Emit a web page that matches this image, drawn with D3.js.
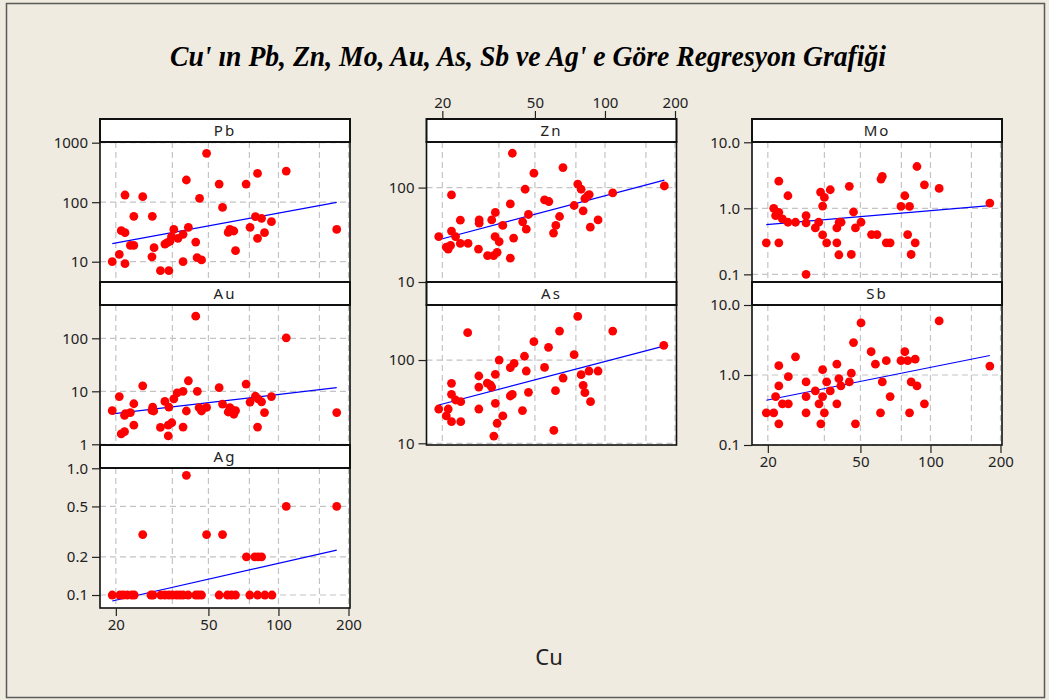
<!DOCTYPE html>
<html>
<head>
<meta charset="utf-8">
<script src="https://cdn.jsdelivr.net/npm/d3@7"></script>
<style>
  html, body { margin: 0; padding: 0; background: #EFEBE1; }
  svg { display: block; }
</style>
</head>
<body>
<svg id="chart" width="1049" height="700"></svg>
<script>
// ---- Cu axis (shared by every panel) ----
const cuDomain = [17.1, 203];
const cuTicks = [20, 50, 100, 200];
const cuGrid = [20, 35, 50, 75, 100, 150, 200];

// ---- Pb vs Cu ----
const pbCu = [19.3,20.7,21.9,21.9,21.1,21.9,23.1,23.9,23.9,26.1,28.7,29.2,28.6,31.1,33.8,32.5,33.3,34.2,34.7,35.5,37.0,38.9,38.9,40.2,41.0,44.1,44.7,45.8,46.7,49.1,55.6,57.5,60.8,61.8,62.8,64.3,65.4,72.6,75.5,79.6,81.3,81.3,84.6,87.1,93.3,108,178];
const pbVal = [10,13.3,9.25,132,33.2,30.7,18.8,18.8,57.8,124,57.8,17.2,12.1,7.06,7.06,19.8,20.9,22.2,26.3,34.9,24.7,28.8,10,236,37.8,21.4,11.7,116,10.7,662,202,81.8,31.1,34.9,33.2,32.8,15.3,202,37.8,57.0,305,24.7,53.5,30.7,47.0,334,34.9];
const pbFit = [20.1, 99.3];
const pbTicks = [10, 100, 1000];
const pbTickLabels = ["10", "100", "1000"];

// ---- Au vs Cu ----
const auCu = [19.3,20.7,21.8,22.0,21.1,21.8,23.1,23.9,23.9,26.1,28.6,28.8,29.1,31.1,32.5,33.8,33.6,34.8,33.6,35.5,36.7,38.9,38.9,40.2,41.0,44.1,44.8,45.6,46.7,49.1,55.6,57.5,60.8,61.8,62.8,64.3,65.4,72.6,75.5,79.6,81.3,81.8,84.6,87.1,93.3,108,178];
const auVal = [4.31,7.96,3.53,3.79,1.57,1.73,3.96,5.82,2.30,12.7,4.37,5.05,4.25,2.08,6.43,5.05,2.30,2.55,1.44,7.21,9.31,10,2.11,4.25,15.8,262,10,4.90,4.25,4.97,11.7,5.73,4.07,4.90,4.50,3.69,4.31,13.7,6.25,8.07,2.11,7.21,6.34,3.96,7.96,102,3.96];
const auFit = [3.74, 11.7];
const auTicks = [1, 10, 100];
const auTickLabels = ["1", "10", "100"];

// ---- Ag vs Cu ----
const agCu = [19.3,20.8,21.5,22.4,23.4,24.0,28.3,28.9,31.2,32.5,33.8,35.0,36.5,37.7,38.9,40.9,44.1,45.3,46.7,55.6,60.3,62.8,65.4,75.3,81.3,87.4,93.8,26.1,40.2,49.1,57.5,72.8,79.1,81.8,84.6,108,178];
const agVal = [0.1,0.1,0.1,0.1,0.1,0.1,0.1,0.1,0.1,0.1,0.1,0.1,0.1,0.1,0.1,0.1,0.1,0.1,0.1,0.1,0.1,0.1,0.1,0.1,0.1,0.1,0.1,0.3,0.88,0.3,0.3,0.2,0.2,0.2,0.2,0.5,0.5];
const agFit = [0.0897, 0.226];
const agTicks = [0.1, 0.2, 0.5, 1.0];
const agTickLabels = ["0.1", "0.2", "0.5", "1.0"];

// ---- Zn vs Cu ----
const znCu = [19.3,20.8,21.2,21.7,21.9,21.9,22.8,23.9,23.9,25.8,28.6,28.8,28.8,31.3,33.2,32.6,33.8,33.7,34.4,35.1,36.4,39.2,39.2,40.0,40.5,44.3,45.4,45.9,46.9,49.5,55.0,57.4,60.1,61.5,63.8,66.0,73.7,76.4,79.0,80.6,82.0,84.2,85.6,86.5,93.4,108,180];
const znVal = [30.3,23.4,22.3,24.4,83.7,34.6,30.3,45.2,25.6,25.6,22.3,45.5,42.0,19.0,19.0,45.5,54.5,30.3,20.6,26.7,39.7,17.9,67.2,231,29.2,43.4,96.0,36.3,51.9,142,74.1,71.2,33.0,39.7,49.4,163,64.6,109,96.0,56.7,76.6,81.6,84.4,38.1,45.5,87.8,104];
const znFit = [28.0, 120];
const znTicks = [10, 100];
const znTickLabels = ["10", "100"];

// ---- As vs Cu ----
const asCu = [19.3,20.8,21.2,21.9,21.9,21.9,22.8,24.0,24.0,25.7,28.7,28.7,28.7,31.2,32.2,32.6,33.8,33.8,33.3,34.4,35.1,36.4,39.2,39.2,40.0,40.7,44.2,45.1,45.9,46.9,49.5,55.0,57.2,60.3,61.3,66.1,63.8,73.7,76.4,79.0,80.6,82.0,85.4,86.7,93.4,108,179];
const asVal = [25.8,21.3,25.8,52.5,38.7,18.2,33.1,31.6,18.2,213,64.3,47.4,25.8,52.9,50.1,47.4,67.3,30.2,12.2,17.4,100,21.3,80.9,37.0,38.7,91.2,24.7,111,73.8,40.9,166,81.6,142,14.3,42.9,60.8,223,116,334,66.7,49.7,40.6,73.8,31.6,73.8,223,150];
const asFit = [28.8, 147];
const asTicks = [10, 100];
const asTickLabels = ["10", "100"];

// ---- Mo vs Cu ----
const moCu = [19.7,21.2,21.6,22.3,22.3,22.3,23.1,24.4,24.4,26.3,29.2,29.2,29.2,32.0,33.1,33.7,34.4,34.4,35.0,35.8,37.1,39.6,39.6,40.5,41.3,40.4,44.8,45.7,46.7,47.6,50.3,55.8,58.9,61.3,62.1,64.6,67.1,74.7,77.6,79.8,81.3,82.6,86.0,87.5,94.2,109,180];
const moVal = [0.30,1.0,0.775,0.87,2.58,0.30,0.69,1.55,0.615,0.615,0.775,0.60,0.10,0.505,0.615,1.76,0.396,1.08,1.46,0.30,1.91,0.505,0.30,0.615,0.615,0.198,2.15,0.20,0.88,0.505,0.615,0.40,0.40,2.77,3.04,0.30,0.30,1.07,1.55,0.40,1.07,0.20,0.30,4.30,2.27,2.0,1.20];
const moFit = [0.567, 1.10];
const moTicks = [0.1, 1, 10];
const moTickLabels = ["0.1", "1.0", "10.0"];

// ---- Sb vs Cu ----
const sbCu = [19.7,21.2,21.6,22.3,22.3,22.3,23.1,24.5,24.5,26.3,29.2,29.2,29.2,32.0,33.2,33.8,34.4,34.4,35.0,35.8,37.1,39.6,39.6,40.4,41.2,44.8,45.7,46.7,47.6,50.3,55.6,58.0,61.0,62.1,64.6,67.1,74.7,77.6,79.8,81.3,82.6,86.0,87.5,94.2,109,180];
const sbVal = [0.288,0.288,0.492,1.36,0.698,0.201,0.387,0.387,0.947,1.82,0.795,0.492,0.288,0.592,0.387,0.201,1.19,0.492,0.288,0.795,0.592,1.43,0.387,0.887,0.698,0.795,1.06,2.91,0.201,5.55,2.15,1.43,0.288,0.795,1.60,0.492,1.60,2.15,1.60,0.288,0.795,1.69,0.698,0.387,5.92,1.34];
const sbFit = [0.436, 1.90];
const sbTicks = [0.1, 1, 10];
const sbTickLabels = ["0.1", "1.0", "10.0"];

// ---- panel table built from the arrays above ----
const panels = [
  { name: "Pb", col: 0, row: 0, cu: pbCu, val: pbVal, fit: pbFit, domain: [4.56, 1027], ticks: pbTicks, labels: pbTickLabels },
  { name: "Au", col: 0, row: 1, cu: auCu, val: auVal, fit: auFit, domain: [0.97, 425], ticks: auTicks, labels: auTickLabels },
  { name: "Ag", col: 0, row: 2, cu: agCu, val: agVal, fit: agFit, domain: [0.079, 1.005], ticks: agTicks, labels: agTickLabels },
  { name: "Zn", col: 1, row: 0, cu: znCu, val: znVal, fit: znFit, domain: [10, 304], ticks: znTicks, labels: znTickLabels },
  { name: "As", col: 1, row: 1, cu: asCu, val: asVal, fit: asFit, domain: [9.54, 458], ticks: asTicks, labels: asTickLabels },
  { name: "Mo", col: 2, row: 0, cu: moCu, val: moVal, fit: moFit, domain: [0.0766, 10.1], ticks: moTicks, labels: moTickLabels },
  { name: "Sb", col: 2, row: 1, cu: sbCu, val: sbVal, fit: sbFit, domain: [0.1, 10], ticks: sbTicks, labels: sbTickLabels }
];

// Cu axes: one per column
const cuAxes = [
  { col: 0, row: 2, side: "bottom" },
  { col: 1, row: 0, side: "top" },
  { col: 2, row: 1, side: "bottom" }
];

// ---- layout ----
const W = 1049, H = 700;
const colX = [100, 426.5, 752];
const panelW = 250, stripH = 23, plotH = 140, rowStep = 163, top0 = 119;
const tickFont = "'Noto Sans', 'DejaVu Sans', sans-serif";

const svg = d3.select("#chart");
svg.append("rect").attr("width", W).attr("height", H).attr("fill", "#EFEBE1");
svg.append("rect")
  .attr("x", 6.5).attr("y", 3.5).attr("width", 1038).attr("height", 694)
  .attr("fill", "none").attr("stroke", "#5a5a5a").attr("stroke-width", 1.5);

const x = d3.scaleLog().domain(cuDomain).range([0, panelW]);

function styleAxis(sel) {
  sel.select(".domain").remove();
  sel.selectAll(".tick line").attr("stroke", "#222").attr("stroke-width", 1.2);
  sel.selectAll(".tick text")
    .attr("fill", "#222")
    .style("font-family", tickFont)
    .style("font-size", "15px");
}

panels.forEach(p => {
  const sTop = top0 + p.row * rowStep;
  const pTop = sTop + stripH;
  const g = svg.append("g").attr("transform", `translate(${colX[p.col]},0)`);
  const y = d3.scaleLog().domain(p.domain).range([pTop + plotH, pTop]);

  // plotting area
  g.append("rect")
    .attr("x", 0).attr("y", pTop).attr("width", panelW).attr("height", plotH)
    .attr("fill", "#ffffff");

  // dashed reference grid
  g.append("g").selectAll("line").data(cuGrid).join("line")
    .attr("x1", d => x(d)).attr("x2", d => x(d))
    .attr("y1", pTop).attr("y2", pTop + plotH)
    .attr("stroke", "#c4c4c4").attr("stroke-width", 1.2)
    .attr("stroke-dasharray", "6,4");
  g.append("g").selectAll("line").data(p.ticks).join("line")
    .attr("x1", 0).attr("x2", panelW)
    .attr("y1", d => y(d)).attr("y2", d => y(d))
    .attr("stroke", "#c4c4c4").attr("stroke-width", 1.2)
    .attr("stroke-dasharray", "6,4");

  // fitted regression line (straight in log-log space)
  const cuExt = d3.extent(p.cu);
  g.append("line")
    .attr("x1", x(cuExt[0])).attr("y1", y(p.fit[0]))
    .attr("x2", x(cuExt[1])).attr("y2", y(p.fit[1]))
    .attr("stroke", "#0000ff").attr("stroke-width", 1.2);

  // observations
  g.append("g").selectAll("circle").data(p.cu).join("circle")
    .attr("cx", d => x(d))
    .attr("cy", (d, i) => y(p.val[i]))
    .attr("r", 4.4)
    .attr("fill", "#ff0000");

  // frame of the plotting area
  g.append("rect")
    .attr("x", 0).attr("y", pTop).attr("width", panelW).attr("height", plotH)
    .attr("fill", "none").attr("stroke", "#111").attr("stroke-width", 1.6);

  // strip with the element name
  g.append("rect")
    .attr("x", 0).attr("y", sTop).attr("width", panelW).attr("height", stripH)
    .attr("fill", "#ffffff").attr("stroke", "#111").attr("stroke-width", 2);
  g.append("text")
    .attr("x", panelW / 2).attr("y", sTop + stripH / 2 + 5.5)
    .attr("text-anchor", "middle")
    .style("font-family", tickFont).style("font-size", "15px")
    .style("letter-spacing", "2px")
    .attr("fill", "#222")
    .text(p.name);

  // value axis
  g.append("g")
    .call(d3.axisLeft(y).tickValues(p.ticks)
      .tickFormat((d, i) => p.labels[i])
      .tickSize(8).tickPadding(4))
    .call(styleAxis);
});

// Cu axes
cuAxes.forEach(a => {
  const sTop = top0 + a.row * rowStep;
  const yPos = a.side === "top" ? sTop : sTop + stripH + plotH;
  const axis = (a.side === "top" ? d3.axisTop(x) : d3.axisBottom(x))
    .tickValues(cuTicks).tickFormat(d3.format("d"))
    .tickSize(8).tickPadding(3);
  svg.append("g")
    .attr("transform", `translate(${colX[a.col]},${yPos})`)
    .call(axis)
    .call(styleAxis);
});

// axis title
svg.append("text")
  .attr("x", 549).attr("y", 665)
  .attr("text-anchor", "middle")
  .style("font-family", tickFont).style("font-size", "22px")
  .attr("fill", "#222")
  .text("Cu");

// chart title
svg.append("text")
  .attr("x", 528).attr("y", 66)
  .attr("text-anchor", "middle")
  .attr("textLength", 716).attr("lengthAdjust", "spacingAndGlyphs")
  .style("font-family", "'Liberation Serif', 'Times New Roman', serif")
  .style("font-size", "30px").style("font-weight", "bold").style("font-style", "italic")
  .attr("fill", "#000")
  .text("Cu' ın Pb, Zn, Mo, Au, As, Sb ve Ag' e Göre Regresyon Grafiği");
</script>
</body>
</html>
